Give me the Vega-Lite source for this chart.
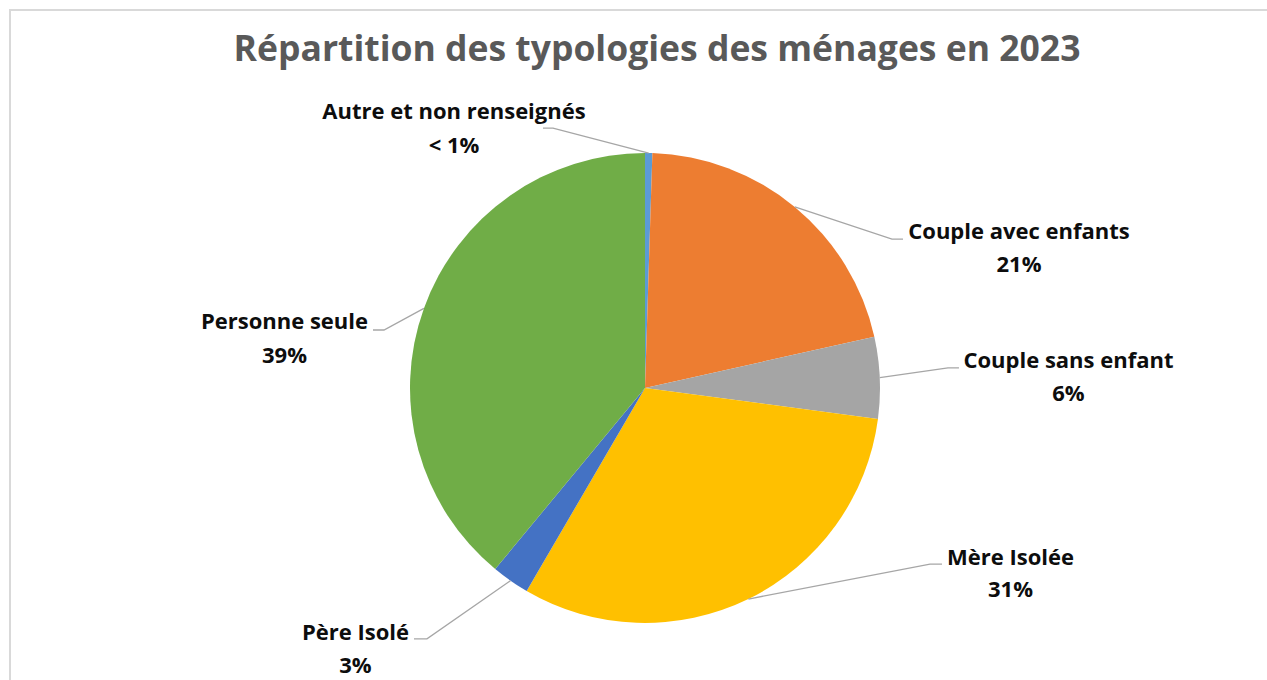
{
  "$schema": "https://vega.github.io/schema/vega-lite/v6.json",
  "autosize": "none",
  "width": 1270,
  "height": 756,
  "padding": {"left": 10, "top": 10, "right": -13, "bottom": -86},
  "background": "#ffffff",
  "config": {"view": {"stroke": "#D9D9D9", "strokeWidth": 2}},
  "title": {
    "text": "Répartition des typologies des ménages en 2023",
    "font": "Open Sans",
    "fontSize": 35.5,
    "fontWeight": "bold",
    "color": "#595959",
    "anchor": "middle",
    "frame": "group",
    "dx": 12,
    "offset": -86,
    "baseline": "alphabetic"
  },
  "data": {
    "values": [
      {"cat": "Autre et non renseignés", "valeur": 0.5, "pct": "< 1%"},
      {"cat": "Couple avec enfants", "valeur": 21.0, "pct": "21%"},
      {"cat": "Couple sans enfant", "valeur": 5.6, "pct": "6%"},
      {"cat": "Mère Isolée", "valeur": 31.3, "pct": "31%"},
      {"cat": "Père Isolé", "valeur": 2.6, "pct": "3%"},
      {"cat": "Personne seule", "valeur": 39.0, "pct": "39%"}
    ]
  },
  "transform": [
    {"window": [{"op": "row_number", "as": "rang"}]},
    {"joinaggregate": [{"op": "sum", "field": "valeur", "as": "total"}]},
    {"window": [{"op": "sum", "field": "valeur", "as": "cumul"}], "sort": [{"field": "rang", "order": "ascending"}], "frame": [null, 0]},
    {"calculate": "2*PI*(datum.cumul - datum.valeur/2)/datum.total", "as": "angle"},
    {"calculate": "sin(datum.angle)", "as": "px"},
    {"calculate": "cos(datum.angle)", "as": "py"},
    {"calculate": "datum.cat + '\\n' + datum.pct", "as": "etiquette"}
  ],
  "layer": [
    {
      "mark": {"type": "arc", "outerRadius": 235},
      "encoding": {
        "theta": {"field": "valeur", "type": "quantitative", "stack": true},
        "order": {"field": "rang", "type": "quantitative"},
        "color": {
          "field": "cat",
          "type": "nominal",
          "scale": {
            "domain": ["Autre et non renseignés", "Couple avec enfants", "Couple sans enfant", "Mère Isolée", "Père Isolé", "Personne seule"],
            "range": ["#5B9BD5", "#ED7D31", "#A5A5A5", "#FFC000", "#4472C4", "#70AD47"]
          },
          "legend": null
        }
      }
    },
    {
      "mark": {"type": "point", "size": 4, "filled": false, "fillOpacity": 0, "stroke": "#A6A6A6", "strokeWidth": 1.3, "opacity": 1},
      "encoding": {
        "x": {"field": "px", "type": "quantitative", "scale": {"domain": [-2.7021, 2.7021], "nice": false, "zero": false}, "axis": null},
        "y": {"field": "py", "type": "quantitative", "scale": {"domain": [-1.6085, 1.6085], "nice": false, "zero": false}, "axis": null},
        "shape": {
          "field": "cat",
          "type": "nominal",
          "scale": {
            "domain": ["Autre et non renseignés", "Couple avec enfants", "Couple sans enfant", "Mère Isolée", "Père Isolé", "Personne seule"],
            "range": [
              "M0,0L-95.7,-25L-105.7,-25",
              "M0,0L97.2,32.2L108.2,32.2",
              "M0,0L68.2,-9.7L79.2,-9.7",
              "M0,0L181.6,-35L193.6,-35",
              "M0,0L-83.5,58.2L-96.5,58.2",
              "M0,0L-39.9,21.6L-50.9,21.6"
            ]
          },
          "legend": null
        }
      }
    },
    {
      "transform": [{"filter": "datum.cat === 'Autre et non renseignés'"}],
      "mark": {"type": "text", "font": "Open Sans", "fontWeight": "bold", "fontSize": 22, "fill": "#0D0D0D", "align": "center", "baseline": "alphabetic", "lineBreak": "\n", "lineHeight": 34, "dx": -194.7, "dy": -34},
      "encoding": {
        "x": {"field": "px", "type": "quantitative", "scale": {"domain": [-2.7021, 2.7021], "nice": false, "zero": false}, "axis": null},
        "y": {"field": "py", "type": "quantitative", "scale": {"domain": [-1.6085, 1.6085], "nice": false, "zero": false}, "axis": null},
        "text": {"field": "etiquette", "type": "nominal"}
      }
    },
    {
      "transform": [{"filter": "datum.cat === 'Couple avec enfants'"}],
      "mark": {"type": "text", "font": "Open Sans", "fontWeight": "bold", "fontSize": 22, "fill": "#0D0D0D", "align": "center", "baseline": "alphabetic", "lineBreak": "\n", "lineHeight": 33, "dx": 224.2, "dy": 32.2},
      "encoding": {
        "x": {"field": "px", "type": "quantitative", "scale": {"domain": [-2.7021, 2.7021], "nice": false, "zero": false}, "axis": null},
        "y": {"field": "py", "type": "quantitative", "scale": {"domain": [-1.6085, 1.6085], "nice": false, "zero": false}, "axis": null},
        "text": {"field": "etiquette", "type": "nominal"}
      }
    },
    {
      "transform": [{"filter": "datum.cat === 'Couple sans enfant'"}],
      "mark": {"type": "text", "font": "Open Sans", "fontWeight": "bold", "fontSize": 22, "fill": "#0D0D0D", "align": "center", "baseline": "alphabetic", "lineBreak": "\n", "lineHeight": 33, "dx": 188.7, "dy": -9.7},
      "encoding": {
        "x": {"field": "px", "type": "quantitative", "scale": {"domain": [-2.7021, 2.7021], "nice": false, "zero": false}, "axis": null},
        "y": {"field": "py", "type": "quantitative", "scale": {"domain": [-1.6085, 1.6085], "nice": false, "zero": false}, "axis": null},
        "text": {"field": "etiquette", "type": "nominal"}
      }
    },
    {
      "transform": [{"filter": "datum.cat === 'Mère Isolée'"}],
      "mark": {"type": "text", "font": "Open Sans", "fontWeight": "bold", "fontSize": 22, "fill": "#0D0D0D", "align": "center", "baseline": "alphabetic", "lineBreak": "\n", "lineHeight": 32, "dx": 262.1, "dy": -34},
      "encoding": {
        "x": {"field": "px", "type": "quantitative", "scale": {"domain": [-2.7021, 2.7021], "nice": false, "zero": false}, "axis": null},
        "y": {"field": "py", "type": "quantitative", "scale": {"domain": [-1.6085, 1.6085], "nice": false, "zero": false}, "axis": null},
        "text": {"field": "etiquette", "type": "nominal"}
      }
    },
    {
      "transform": [{"filter": "datum.cat === 'Père Isolé'"}],
      "mark": {"type": "text", "font": "Open Sans", "fontWeight": "bold", "fontSize": 22, "fill": "#0D0D0D", "align": "center", "baseline": "alphabetic", "lineBreak": "\n", "lineHeight": 33, "dx": -155, "dy": 59.2},
      "encoding": {
        "x": {"field": "px", "type": "quantitative", "scale": {"domain": [-2.7021, 2.7021], "nice": false, "zero": false}, "axis": null},
        "y": {"field": "py", "type": "quantitative", "scale": {"domain": [-1.6085, 1.6085], "nice": false, "zero": false}, "axis": null},
        "text": {"field": "etiquette", "type": "nominal"}
      }
    },
    {
      "transform": [{"filter": "datum.cat === 'Personne seule'"}],
      "mark": {"type": "text", "font": "Open Sans", "fontWeight": "bold", "fontSize": 22, "fill": "#0D0D0D", "align": "center", "baseline": "alphabetic", "lineBreak": "\n", "lineHeight": 34, "dx": -139.4, "dy": 20.6},
      "encoding": {
        "x": {"field": "px", "type": "quantitative", "scale": {"domain": [-2.7021, 2.7021], "nice": false, "zero": false}, "axis": null},
        "y": {"field": "py", "type": "quantitative", "scale": {"domain": [-1.6085, 1.6085], "nice": false, "zero": false}, "axis": null},
        "text": {"field": "etiquette", "type": "nominal"}
      }
    }
  ]
}
